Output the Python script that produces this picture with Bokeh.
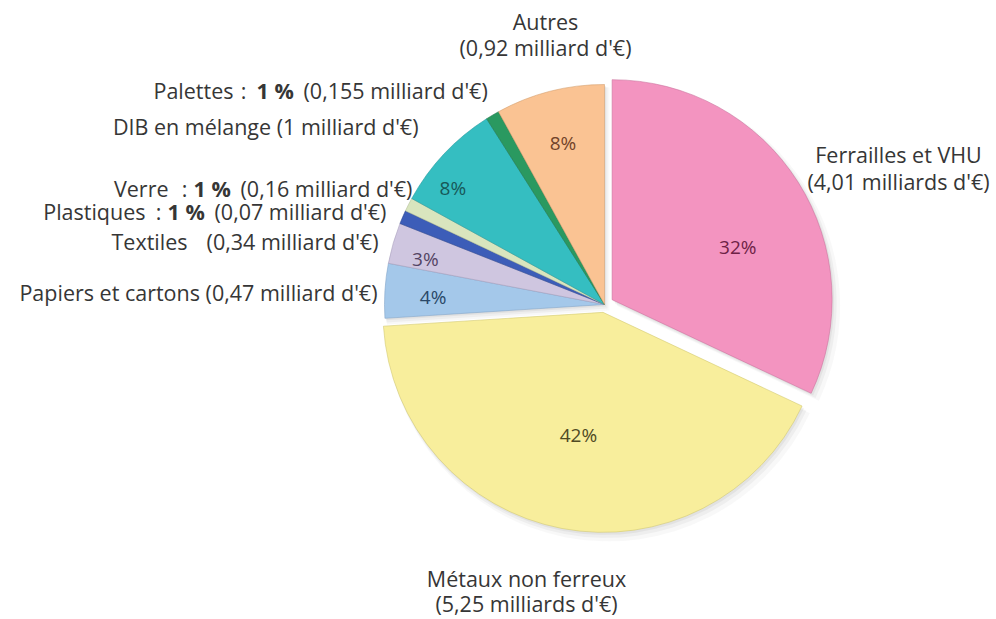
from math import pi, cos, sin, radians

from bokeh.core.properties import value
from bokeh.embed import file_html
from bokeh.models import ColumnDataSource, Range1d
from bokeh.plotting import figure
from bokeh.resources import INLINE

# ---------------------------------------------------------------- data
categories = [
    "Ferrailles et VHU",
    "Métaux non ferreux",
    "Papiers et cartons",
    "Textiles",
    "Plastiques",
    "Verre",
    "DIB en mélange",
    "Palettes",
    "Autres",
]
shares_pct = [32, 42, 4, 3, 1, 1, 8, 1, 8]
amounts_bn = [4.01, 5.25, 0.47, 0.34, 0.07, 0.16, 1, 0.155, 0.92]

# --------------------------------------------------------------- style
slice_colors = ["#F394C0", "#F8EE9C", "#A4C8EA", "#CFC6E0", "#3C5DB8",
                "#D9E5BE", "#35BEC1", "#2A9960", "#FAC393"]
edge_colors = ["#C9709A", "#CFC66E", "#7FA3C6", "#A89FBC", "#2A4590",
               "#B3BE98", "#24989A", "#1E7748", "#D29C6C"]
pct_colors = ["#6E2246", "#4F4A24", "#2A4868", "#544464", "#3C5DB8",
              "#D9E5BE", "#175858", "#2A9960", "#72432A"]
TEXT = "#363636"
FONT = value("Open Sans")
SIZE = value("21.5px")

W, H = 996, 619
CX, CY, R = 604, H - 304, 220        # pie centre (y measured up) and radius
explode = {0: 9, 1: 8}               # slices pulled out of the pie, px
# percent label placement: (fraction of radius, angle nudge in degrees)
pct_layout = {0: (0.62, -9.6), 1: (0.57, -0.5), 2: (0.78, 1.0),
              3: (0.84, 2.0), 6: (0.87, 5.6), 8: (0.76, 0.0)}


def top(y):
    """Convert a distance from the top edge into a y coordinate."""
    return H - y


def amount_text(v):
    unit = "milliards" if v >= 2 else "milliard"
    return f"({f'{v:g}'.replace('.', ',')} {unit} d'€)"


# ------------------------------------------------------- wedge geometry
xs, ys, starts, ends, mids = [], [], [], [], []
cum = 0.0
for i, s in enumerate(shares_pct):
    a_from = 90 - 3.6 * cum
    cum += s
    a_to = 90 - 3.6 * cum
    mid = (a_from + a_to) / 2
    d = explode.get(i, 0)
    xs.append(CX + d * cos(radians(mid)))
    ys.append(CY + d * sin(radians(mid)))
    starts.append(radians(a_to))
    ends.append(radians(a_from))
    mids.append(mid)

pie = ColumnDataSource(dict(
    x=xs, y=ys, start=starts, end=ends,
    fill=slice_colors, edge=edge_colors, name=categories,
))

p = figure(width=W, height=H, x_range=Range1d(0, W), y_range=Range1d(0, H),
           x_axis_type=None, y_axis_type=None, toolbar_location=None,
           output_backend="svg", min_border=0)
p.grid.visible = False
p.outline_line_color = None
p.background_fill_color = "white"
p.border_fill_color = "white"

# soft drop shadow under the pie
for dx, dy, grow, alpha in [(5, -6, 3, 0.06), (3, -4, 1.5, 0.08), (1.5, -2, 0.5, 0.10)]:
    shadow = ColumnDataSource(dict(
        x=[x + dx for x in xs], y=[y + dy for y in ys], start=starts, end=ends))
    p.wedge(x="x", y="y", radius=R + grow, start_angle="start", end_angle="end",
            direction="anticlock", source=shadow, fill_color="#808080",
            fill_alpha=alpha, line_color=None)

p.wedge(x="x", y="y", radius=R, start_angle="start", end_angle="end",
        direction="anticlock", source=pie, fill_color="fill",
        line_color="edge", line_width=1, line_alpha=0.55)

# ------------------------------------------------ percentages in slices
px, py, ptxt, pcol = [], [], [], []
for i, (frac, nudge) in pct_layout.items():
    a = radians(mids[i] + nudge)
    px.append(xs[i] + frac * R * cos(a))
    py.append(ys[i] + frac * R * sin(a))
    ptxt.append(f"{shares_pct[i]}%")
    pcol.append(pct_colors[i])
p.text(x="x", y="y", text="text", text_color="color",
       source=ColumnDataSource(dict(x=px, y=py, text=ptxt, color=pcol)),
       text_font=FONT, text_font_size=value("19px"),
       text_align="center", text_baseline="middle")

# ------------------------------------------------------ outside labels
normal = dict(x=[], y=[], text=[], align=[])
bold = dict(x=[], y=[], text=[], align=[])


def put(store, text, x, y, align):
    store["x"].append(x)
    store["y"].append(top(y))
    store["text"].append(text)
    store["align"].append(align)


# two-line labels, centred
for i, x, y1, y2 in [(8, 545, 21, 47), (0, 898, 154, 181), (1, 526, 578, 603)]:
    put(normal, categories[i], x, y1, "center")
    put(normal, amount_text(amounts_bn[i]), x, y2, "center")

# one-line labels, right aligned towards the pie
put(normal, f"{categories[2]} {amount_text(amounts_bn[2])}", 377, 292, "right")
put(normal, categories[3], 187, 241, "right")
put(normal, amount_text(amounts_bn[3]), 378, 241, "right")
put(normal, f"{categories[6]} {amount_text(amounts_bn[6])}", 418, 126, "right")

# labels carrying a bold percentage: name, colon, bold share, amount
for i, name_right, colon_x, bold_left, suf_left, y in [
        (7, 233, 243, 256, 303, 90),
        (5, 168, 184, 193, 240, 188),
        (4, 145, 158, 167, 214, 211)]:
    put(normal, categories[i], name_right, y, "right")
    put(normal, ":", colon_x, y, "center")
    put(bold, f"{shares_pct[i]} %", bold_left, y, "left")
    put(normal, amount_text(amounts_bn[i]), suf_left, y, "left")

for store, style in [(normal, "normal"), (bold, "bold")]:
    p.text(x="x", y="y", text="text", text_align="align",
           source=ColumnDataSource(store), text_color=TEXT,
           text_font=FONT, text_font_size=SIZE,
           text_font_style=style, text_baseline="middle")

open("out.html", "w").write(file_html(p, INLINE))
